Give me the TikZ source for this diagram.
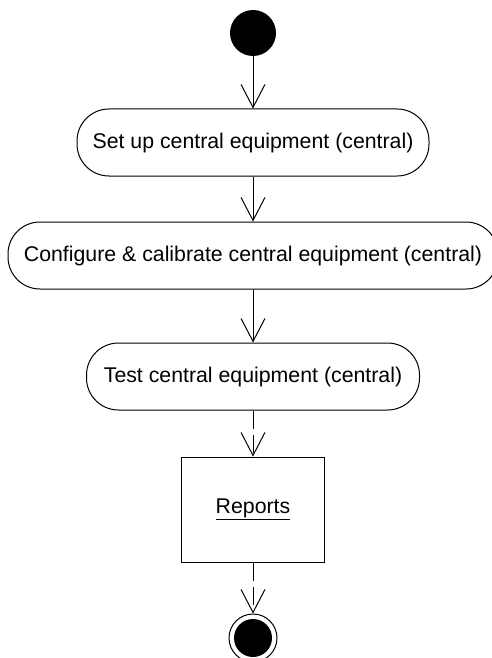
\documentclass[tikz,border=0pt]{standalone}
\usepackage{fontspec}
\setmainfont{Liberation Sans}
\usetikzlibrary{arrows.meta,positioning}

\begin{document}
\begin{tikzpicture}[x=1pt,y=1pt,line width=1pt,
    font=\fontsize{21.3}{25}\selectfont,
    flow/.style={draw,-{Straight Barb[length=23pt,width=24pt]}},
    objflow/.style={flow,dash pattern=on 18pt off 6pt},
    activity/.style={draw,rectangle,rounded corners=32pt,minimum height=67pt,inner sep=2pt},
    object/.style={draw,rectangle,minimum width=143pt,minimum height=105pt},
    startdot/.style={circle,fill=black,inner sep=0pt,minimum size=46pt},
    endring/.style={circle,draw,inner sep=0pt,minimum size=48pt}]
  \useasboundingbox (0,0) rectangle (491,-658);

  \node[startdot]                              (S)   at (253,-33) {};
  \node[activity,minimum width=352pt] (Setup) [below=52pt of S]     {Set up central equipment (central)};
  \node[activity,minimum width=490pt] (Conf)  [below=45pt of Setup] {Configure \& calibrate central equipment (central)};
  \node[activity,minimum width=333pt] (Test)  [below=53pt of Conf]  {Test central equipment (central)};
  \node[object]                       (Rep)   [below=46pt of Test]  {\underline{Reports}};
  \node[endring]                      (E)     [below=51pt of Rep]   {};
  \node[startdot,minimum size=38pt]   (Edot)  at (E)                {};

  \path (S)     edge[flow]    (Setup)
        (Setup) edge[flow]    (Conf)
        (Conf)  edge[flow]    (Test)
        (Test)  edge[objflow] (Rep)
        (Rep)   edge[objflow] (E);
\end{tikzpicture}
\end{document}
